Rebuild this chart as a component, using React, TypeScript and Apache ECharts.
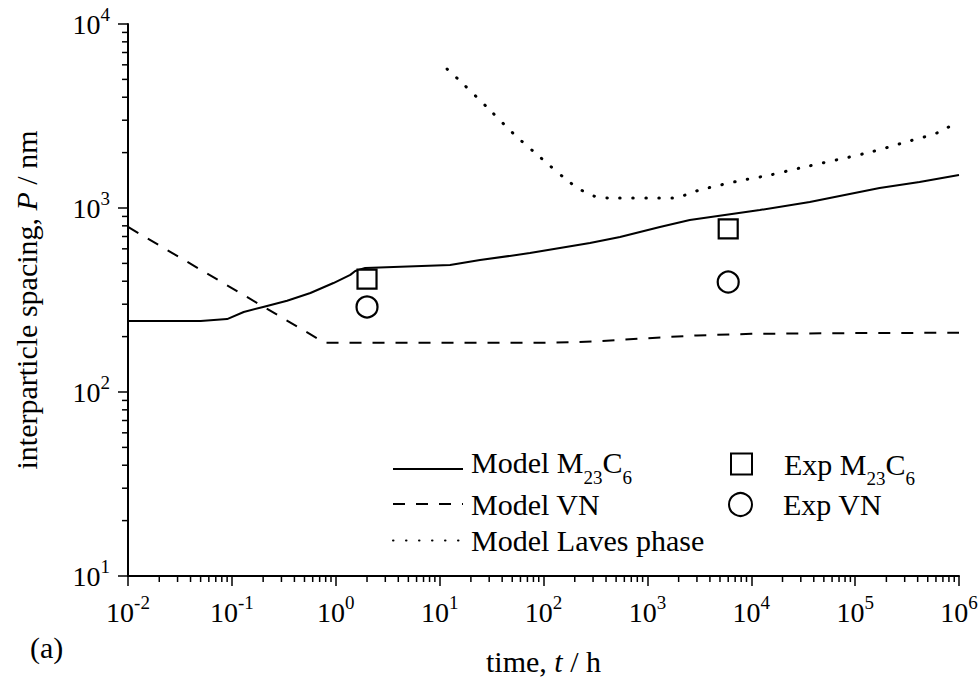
import React, { useEffect, useRef } from "react";
import * as echarts from "echarts";

// ---- data ----
const tM23C6 = [0.01, 0.05, 0.09, 0.13, 0.2, 0.34, 0.57, 0.95, 1.38, 1.54, 1.92, 12.6, 24.5, 74, 144, 280, 545, 1320, 2560, 12100, 36600, 172000, 417000, 1000000];
const pM23C6 = [243, 243, 249, 272, 290, 313, 345, 391, 433, 455, 472, 490, 521, 569, 606, 646, 696, 789, 861, 975, 1079, 1285, 1383, 1510];

const tVN = [0.01, 0.66, 0.8, 100, 300, 1000, 3000, 10000, 100000, 1000000];
const pVN = [789, 196, 185, 185, 188, 196, 203, 207, 209, 210];

const tLaves = [11.8, 16.1, 29.2, 52, 94.6, 172, 230, 306, 417, 1840, 2450, 3200, 7580, 15100, 29200, 129000, 334000, 650000, 1000000];
const pLaves = [5690, 4840, 3490, 2520, 1870, 1403, 1253, 1161, 1133, 1133, 1191, 1253, 1403, 1510, 1648, 1990, 2312, 2590, 3000];

const tExpM23C6 = [2, 6000];
const pExpM23C6 = [411, 770];
const tExpVN = [2, 6000];
const pExpVN = [290, 396];

// tick labels (exponents of 10)
const xExponents = ["-2", "-1", "0", "1", "2", "3", "4", "5", "6"];
const yExponents = ["1", "2", "3", "4"];
const xMinDecade = -2;
const yMinDecade = 1;
const minorMultipliers = [2, 3, 4, 5, 6, 7, 8, 9];

const FONT = "'Liberation Serif', 'Times New Roman', serif";

const zip = (a: number[], b: number[]) => a.map((v, i) => [v, b[i]]);

export default function App() {
  const ref = useRef<HTMLDivElement>(null);
  useEffect(() => {
    if (!ref.current) return;
    const chart = echarts.init(ref.current, undefined, { renderer: "svg" });

    const xMinor: number[][] = [];
    for (let k = 0; k < xExponents.length - 1; k++) {
      for (const m of minorMultipliers) xMinor.push([m * Math.pow(10, xMinDecade + k), 10]);
    }
    const yMinor: number[][] = [];
    for (let k = 0; k < yExponents.length - 1; k++) {
      for (const m of minorMultipliers) yMinor.push([0.01, m * Math.pow(10, yMinDecade + k)]);
    }

    const base = { fontFamily: FONT, color: "#000" };
    const powRich = {
      b: { ...base, fontSize: 28, lineHeight: 28 },
      s: { ...base, fontSize: 19, lineHeight: 28, height: 8, verticalAlign: "top" },
    };
    // legend rich styles
    const legRich = {
      m0: { ...base, fontSize: 30, lineHeight: 30, padding: [0, 0, 14, 3] },
      m: { ...base, fontSize: 30, lineHeight: 30, padding: [0, 0, 14, 0] },
      s: { ...base, fontSize: 19, lineHeight: 30, padding: [16, 0, 0, 0] },
      n0: { ...base, fontSize: 30, lineHeight: 30, padding: [0, 0, 0, 3] },
      n: { ...base, fontSize: 30, lineHeight: 30 },
      s2: { ...base, fontSize: 19, lineHeight: 30, padding: [28, 0, 0, 0] },
    };
    const legendLabels: Record<string, string> = {
      "Model M23C6": "{m0|Model M}{s|23}{m|C}{s|6}",
      "Model VN": "{n0|Model VN}",
      "Model Laves phase": "{n0|Model Laves phase}",
      "Exp M23C6": "{n|Exp M}{s2|23}{n|C}{s2|6}",
      "Exp VN": "{n|Exp VN}",
    };
    const legendText = { ...base, fontSize: 30, lineHeight: 30, rich: legRich };
    const lineLegend = (name: string, top: number) => ({
      left: 392,
      top,
      padding: 0,
      orient: "vertical",
      itemWidth: 70,
      itemHeight: 30,
      itemGap: 0,
      data: [name],
      formatter: (n: string) => legendLabels[n],
      itemStyle: { color: "rgba(0,0,0,0)", borderColor: "rgba(0,0,0,0)", borderWidth: 0 },
      textStyle: legendText,
      selectedMode: false,
    });
    // the legend box is placed by its visible content, so "left" is the symbol's outer left edge
    const symLegend = (name: string, icon: string, h: number, left: number, top: number) => ({
      left,
      top,
      padding: 0,
      orient: "vertical",
      itemWidth: 75,
      itemHeight: h,
      itemGap: 0,
      symbolKeepAspect: true,
      data: [{ name, icon }],
      formatter: (n: string) => legendLabels[n],
      itemStyle: { color: "#fff", borderColor: "#000", borderWidth: 2 },
      textStyle: legendText,
      selectedMode: false,
    });

    const option: any = {
      animation: false,
      backgroundColor: "#fff",
      textStyle: { fontFamily: FONT, color: "#000" },
      grid: { left: 128, right: 21, top: 24, bottom: 106, containLabel: false, outerBoundsMode: "none" },
      xAxis: {
        type: "log",
        logBase: 10,
        min: 0.01,
        max: 1000000,
        interval: 1,
        name: "time, {i|t} / h",
        nameLocation: "middle",
        nameGap: 70,
        nameTextStyle: {
          ...base, fontSize: 30, lineHeight: 30,
          rich: { i: { ...base, fontStyle: "italic", fontSize: 30, lineHeight: 30 } },
        },
        axisLine: { lineStyle: { color: "#000", width: 2 } },
        axisTick: { length: 10, inside: false, lineStyle: { color: "#000", width: 1.5 } },
        minorTick: { show: false },
        splitLine: { show: false },
        axisLabel: {
          margin: 22,
          formatter: (v: number) => {
            const e = Math.round(Math.log10(v)) - xMinDecade;
            return `{b|10}{s|${xExponents[e]}}`;
          },
          rich: powRich,
        },
      },
      yAxis: {
        type: "log",
        logBase: 10,
        min: 10,
        max: 10000,
        interval: 1,
        name: "interparticle spacing, {i|P} / nm",
        nameLocation: "middle",
        nameGap: 87,
        nameTextStyle: {
          ...base, fontSize: 30, lineHeight: 30,
          rich: { i: { ...base, fontStyle: "italic", fontSize: 30, lineHeight: 30 } },
        },
        axisLine: { show: true, lineStyle: { color: "#000", width: 2 } },
        axisTick: { show: true, length: 10, inside: false, lineStyle: { color: "#000", width: 1.5 } },
        splitLine: { show: false },
        axisLabel: {
          margin: 18,
          formatter: (v: number) => {
            const e = Math.round(Math.log10(v)) - yMinDecade;
            return `{b|10}{s|${yExponents[e]}}`;
          },
          rich: powRich,
        },
      },
      legend: [
        lineLegend("Model M23C6", 447),
        lineLegend("Model VN", 489),
        lineLegend("Model Laves phase", 525.5),
        symLegend("Exp M23C6", "path://M0,0L20,0L20,20L0,20Z", 21, 730, 440.5),
        symLegend("Exp VN", "circle", 23, 728, 489.5),
      ],
      graphic: [
        {
          type: "text",
          left: 30,
          top: 632,
          style: { text: "(a)", font: `30px ${FONT}`, fill: "#000" },
        },
      ],
      series: [
        {
          name: "Model M23C6",
          type: "line",
          data: zip(tM23C6, pM23C6),
          symbol: "none",
          lineStyle: { color: "#000", width: 2, type: "solid" },
          itemStyle: { color: "#000" },
        },
        {
          name: "Model VN",
          type: "line",
          data: zip(tVN, pVN),
          symbol: "none",
          lineStyle: { color: "#000", width: 2, type: [12, 11] },
          itemStyle: { color: "#000" },
        },
        {
          name: "Model Laves phase",
          type: "line",
          data: zip(tLaves, pLaves),
          symbol: "none",
          smooth: 0.3,
          lineStyle: { color: "#000", width: 3, type: [0.5, 12.5], cap: "round" },
          itemStyle: { color: "#000" },
        },
        {
          name: "Exp M23C6",
          type: "scatter",
          data: zip(tExpM23C6, pExpM23C6),
          symbol: "rect",
          symbolSize: 19,
          itemStyle: { color: "#fff", borderColor: "#000", borderWidth: 2.2, opacity: 1 },
          z: 5,
        },
        {
          name: "Exp VN",
          type: "scatter",
          data: zip(tExpVN, pExpVN),
          symbol: "circle",
          symbolSize: 21,
          itemStyle: { color: "#fff", borderColor: "#000", borderWidth: 2.2, opacity: 1 },
          z: 5,
        },
        {
          name: "xMinorTicks",
          type: "custom",
          silent: true,
          clip: false,
          data: xMinor,
          renderItem: (params: any, api: any) => {
            const p = api.coord([api.value(0), api.value(1)]);
            return {
              type: "line",
              shape: { x1: p[0], y1: p[1], x2: p[0], y2: p[1] + 6 },
              style: { stroke: "#000", lineWidth: 1.5 },
            };
          },
        },
        {
          name: "yMinorTicks",
          type: "custom",
          silent: true,
          clip: false,
          data: yMinor,
          renderItem: (params: any, api: any) => {
            const p = api.coord([api.value(0), api.value(1)]);
            return {
              type: "line",
              shape: { x1: p[0] - 6, y1: p[1], x2: p[0], y2: p[1] },
              style: { stroke: "#000", lineWidth: 1.5 },
            };
          },
        },
      ],
    };
    chart.setOption(option);
    return () => chart.dispose();
  }, []);

  return (
    <div
      ref={ref}
      style={{ position: "fixed", left: 0, top: 0, width: 980, height: 682, background: "#fff" }}
    />
  );
}
